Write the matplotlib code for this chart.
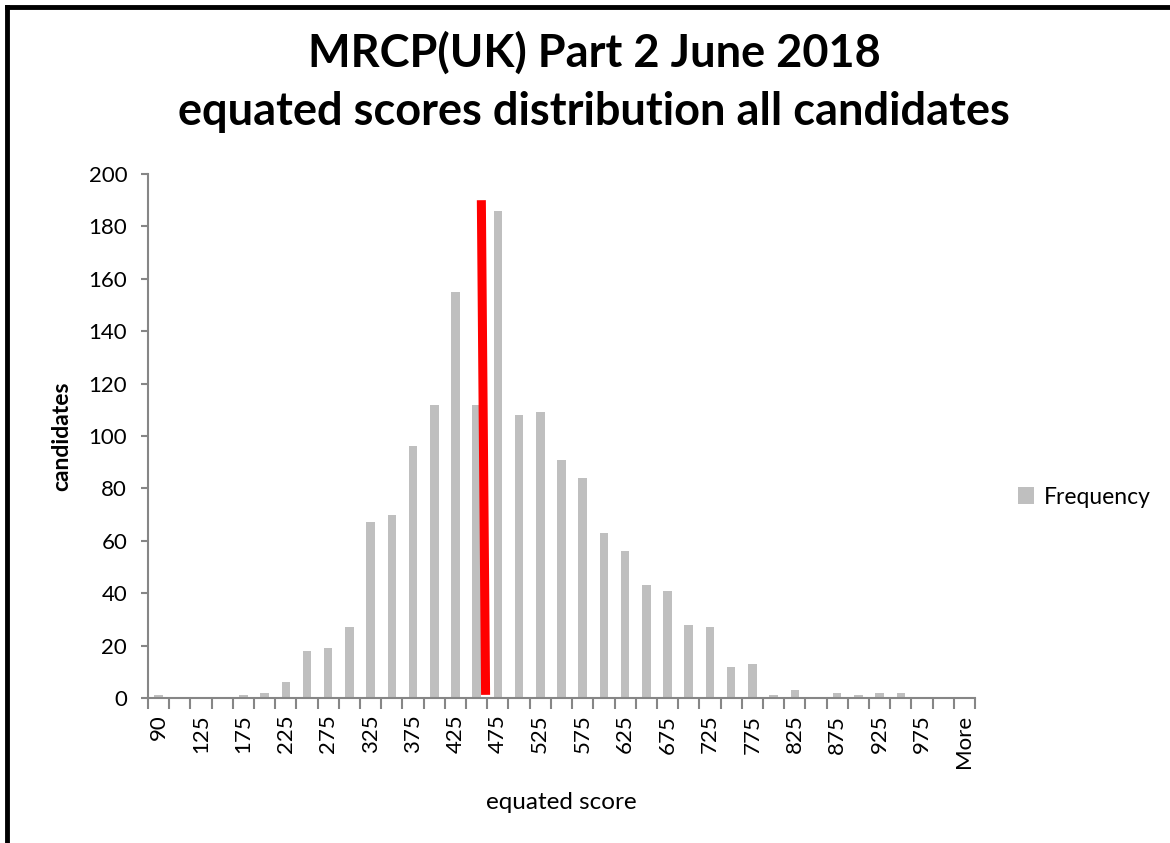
import matplotlib
matplotlib.use('Agg')
import matplotlib.pyplot as plt
from matplotlib.lines import Line2D
import numpy as np

# score bins (Excel histogram style) and candidate counts
bins = ['90', '100', '125', '150', '175', '200', '225', '250', '275', '300',
        '325', '350', '375', '400', '425', '450', '475', '500', '525', '550',
        '575', '600', '625', '650', '675', '700', '725', '750', '775', '800',
        '825', '850', '875', '900', '925', '950', '975', '1000', 'More']
frequency = [1, 0, 0, 0, 1, 2, 6, 18, 19, 27,
             67, 70, 96, 112, 155, 112, 186, 108, 109, 91,
             84, 63, 56, 43, 41, 28, 27, 12, 13, 1,
             3, 0, 2, 1, 2, 2, 0, 0, 0]

# hand-drawn pass mark line, in category units / candidates
pass_line_x = [15.22, 15.42]
pass_line_y = [190, 1.2]

title = 'MRCP(UK) Part 2 June 2018\nequated scores distribution all candidates'

plt.rcParams['font.family'] = ['Lato', 'DejaVu Sans']

W, H = 1170, 843
fig = plt.figure(figsize=(W / 100, H / 100), dpi=100)
ax = fig.add_axes([148 / W, 1 - 698 / H, (975 - 148) / W, (698 - 174) / H])

x = np.arange(len(bins))
bars = ax.bar(x, frequency, width=0.4, color='#BFBFBF', label='Frequency', zorder=2)

ax.plot(pass_line_x, pass_line_y, color='#FF0000', lw=6.5, solid_capstyle='butt', zorder=3)

ax.set_xlim(-0.5, len(bins) - 0.5)
ax.set_ylim(0, 200)
ax.set_yticks(np.arange(0, 201, 20))

# labels on every other bin, tick marks between bins
ax.set_xticks(x[::2])
ax.set_xticklabels(bins[::2], rotation=90)
ax.set_xticks(np.arange(-0.5, len(bins), 1), minor=True)
ax.tick_params(axis='x', which='major', length=0, pad=12, labelsize=16, colors='black')
ax.tick_params(axis='x', which='minor', length=8, width=1.5, color='#868686', direction='out')
ax.tick_params(axis='y', length=5, width=1.5, color='#868686', labelsize=16, pad=10)

for s in ['top', 'right']:
    ax.spines[s].set_visible(False)
for s in ['left', 'bottom']:
    ax.spines[s].set_color('#868686')
    ax.spines[s].set_linewidth(1.5)

ax.set_xlabel('equated score', fontsize=17.5)
ax.set_ylabel('candidates', fontsize=16.5, fontweight='bold')
ax.xaxis.set_label_coords(0.5, -0.18)
ax.yaxis.set_label_coords(-0.092, 0.5)

fig.text(0.508, 1 - 82 / H, title, ha='center', va='center', fontsize=32.5,
         fontweight='bold', linespacing=1.5)

ax.legend(handles=[bars], loc='center left', bbox_to_anchor=(1018 / W, 1 - 497 / H),
          bbox_transform=fig.transFigure, frameon=False, fontsize=16.5, borderpad=0,
          borderaxespad=0, handlelength=0.7, handleheight=0.7, handletextpad=0.45)

# black frame round the picture (top and left edges visible)
fig.add_artist(Line2D([7 / W, 1.01], [1 - 7 / H, 1 - 7 / H], color='black', lw=3.5,
                      transform=fig.transFigure))
fig.add_artist(Line2D([7 / W, 7 / W], [1 - 7 / H, -0.01], color='black', lw=3.5,
                      transform=fig.transFigure))

fig.savefig('out.png', dpi=100, facecolor='white')
